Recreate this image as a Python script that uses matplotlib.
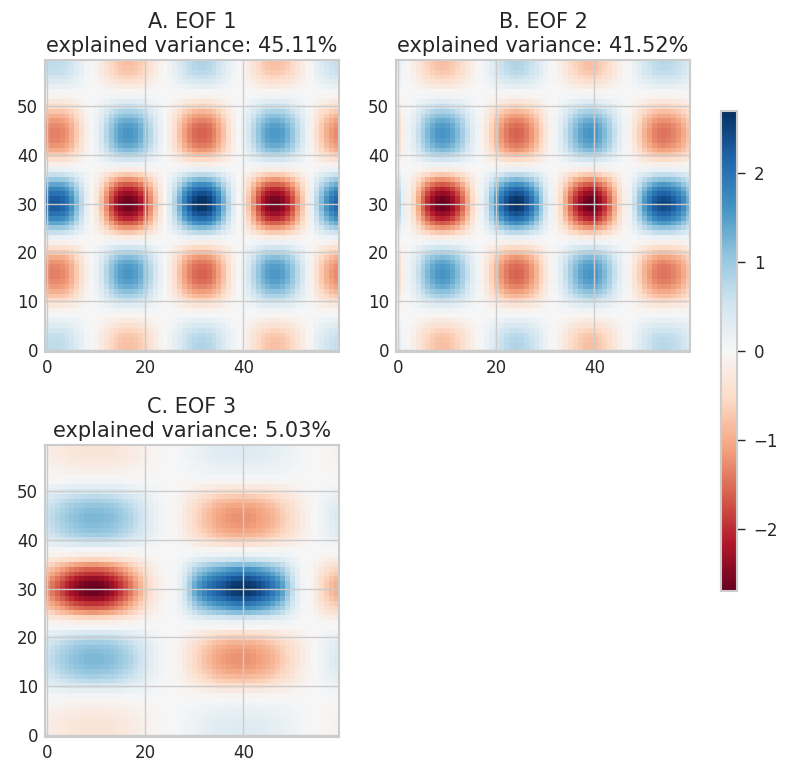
import numpy as np
import matplotlib
matplotlib.use("Agg")
import matplotlib.pyplot as plt

# Column and row loadings of each EOF pattern (60 grid points along each axis)
eof1_x = [.81,.85,.85,.82,.75,.62,.45,.27,.10,-.03,-.12,-.29,-.48,-.68,-.83,-.94,-.99,-.99,-.94,-.83,
          -.68,-.48,-.29,-.12,.00,.12,.29,.49,.69,.84,.95,1.0,1.0,.95,.84,.69,.49,.29,.12,.00,
          -.11,-.28,-.47,-.66,-.81,-.92,-.97,-.97,-.92,-.81,-.66,-.47,-.28,-.10,.08,.27,.45,.60,.72,.80]
eof1_y = [.30,.30,.29,.27,.22,.16,.09,.02,-.04,-.13,-.23,-.33,-.42,-.50,-.56,-.59,-.59,-.57,-.52,-.44,
          -.33,-.20,-.06,.08,.27,.45,.62,.77,.88,.97,1.0,.97,.88,.77,.62,.45,.27,.08,-.06,-.20,
          -.33,-.44,-.52,-.57,-.59,-.59,-.56,-.50,-.42,-.33,-.23,-.13,-.04,.02,.09,.16,.22,.27,.29,.30]
eof2_x = [.30,.08,-.06,-.20,-.39,-.58,-.75,-.88,-.97,-1.0,-.97,-.88,-.75,-.58,-.39,-.20,-.06,.06,.20,.39,
          .58,.75,.88,.97,1.0,.97,.88,.75,.58,.39,.20,.06,-.06,-.20,-.39,-.58,-.75,-.88,-.97,-1.0,
          -.97,-.88,-.75,-.58,-.39,-.20,-.06,.07,.22,.40,.58,.72,.84,.90,.92,.90,.84,.76,.64,.50]
eof2_y = eof1_y
# EOF 3 differs in x between its central band and the bands above and below
eof3_x_band = [-.47,-.54,-.62,-.70,-.78,-.85,-.91,-.96,-.99,-1.0,-1.0,-.98,-.94,-.88,-.81,-.73,-.64,-.54,-.44,-.34,
               -.25,-.17,-.10,-.05,-.01,.00,.02,.08,.20,.35,.50,.60,.68,.75,.80,.84,.88,.93,.97,.99,
               1.0,.99,.96,.92,.87,.82,.74,.66,.55,.40,.25,.12,.03,.00,-.03,-.10,-.18,-.26,-.32,-.36]
eof3_x_flank = [-.50,-.58,-.66,-.74,-.81,-.87,-.92,-.96,-.99,-1.0,-1.0,-.99,-.97,-.94,-.89,-.82,-.74,-.66,-.56,-.46,
                -.36,-.26,-.16,-.09,-.04,.00,.04,.10,.20,.31,.42,.53,.63,.72,.81,.88,.93,.97,.99,1.0,
                1.0,.99,.97,.92,.88,.82,.75,.66,.56,.47,.38,.28,.18,.10,.04,-.03,-.10,-.17,-.24,-.30]
eof3_y_band = [0]*23 + [.06,.22,.43,.60,.73,.87,.97,1.0,.97,.87,.73,.60,.43,.22,.06] + [0]*22
eof3_y_flank = [.13,.13,.13,.12,.10,.08,.05,.02,-.03,-.10,-.18,-.26,-.33,-.39,-.43,-.45,-.45,-.43,-.40,-.34,
                -.26,-.15,-.02] + [0]*15 + [-.02,-.15,-.26,-.34,-.40,-.43,-.45,-.45,-.43,-.39,-.33,-.26,-.18,-.10,-.03,.02,.05,.08,.10,.12,.13,.13]
peak_value = 2.7
titles = ["A. EOF 1\nexplained variance: 45.11%",
          "B. EOF 2\nexplained variance: 41.52%",
          "C. EOF 3\nexplained variance: 5.03%"]
xticks = [0, 20, 40]
yticks = [0, 10, 20, 30, 40, 50]
cbar_ticks = [-2, -1, 0, 1, 2]

W, H = 786, 779
TEXT = "#262626"
EDGE = "#cccccc"
plt.rcParams["font.family"] = "DejaVu Sans"


def px_axes(fig, left, right, top, bottom):
    return fig.add_axes([left / W, 1 - bottom / H, (right - left) / W, (bottom - top) / H])


fig = plt.figure(figsize=(W / 100, H / 100), dpi=100)
boxes = [(45, 339, 60, 352), (396, 690, 60, 352), (45, 339, 445, 737)]
fields = [
    np.outer(eof1_y, eof1_x) * peak_value,
    np.outer(eof2_y, eof2_x) * peak_value,
    (np.outer(eof3_y_band, eof3_x_band) + np.outer(eof3_y_flank, eof3_x_flank)) * peak_value,
]

for box, field, title in zip(boxes, fields, titles):
    ax = px_axes(fig, *box)
    im = ax.imshow(field, origin="lower", cmap="RdBu", vmin=-peak_value, vmax=peak_value,
                   aspect="auto", interpolation="nearest")
    ax.set_xticks(xticks)
    ax.set_yticks(yticks)
    ax.grid(True, color=EDGE, linewidth=1.0)
    ax.tick_params(length=0, labelsize=12, labelcolor=TEXT, pad=5)
    for spine in ax.spines.values():
        spine.set_edgecolor(EDGE)
        spine.set_linewidth(1.5)
    ax.set_title(title, fontsize=15, color=TEXT, pad=6, linespacing=1.25)

cax = px_axes(fig, 721, 737, 111, 591)
cb = fig.colorbar(im, cax=cax)
cb.set_ticks(cbar_ticks)
cb.ax.tick_params(length=6, width=1, color=TEXT, labelsize=12, labelcolor=TEXT, pad=6)
cb.outline.set_edgecolor(EDGE)
cb.outline.set_linewidth(1.5)

fig.savefig("out.png", dpi=100)
